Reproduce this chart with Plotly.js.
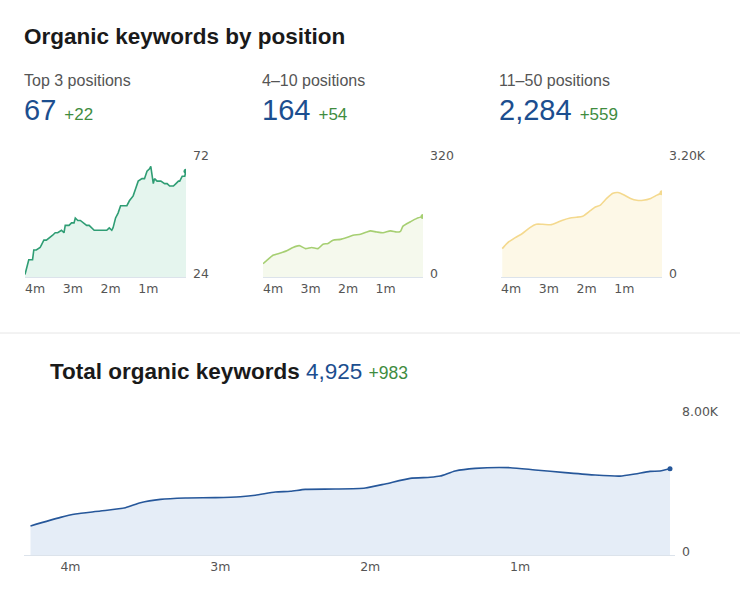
<!DOCTYPE html>
<html><head><meta charset="utf-8">
<script src="https://cdn.plot.ly/plotly-3.0.1.min.js"></script>
<style>html,body{margin:0;padding:0;background:#fff;}#chart{width:740px;height:598px;}</style>
</head><body><div id="chart"></div>
<script>
// ---- data (days before latest date) ----
const tickDays = [-120, -90, -60, -30];
const tickLabels = ['4m', '3m', '2m', '1m'];

const panelTitles = ['Top 3 positions', '4\u201310 positions', '11\u201350 positions'];
const panelValues = ['67', '164', '2,284'];
const panelDeltas = ['+22', '+54', '+559'];

const top3Days = [-128,-126,-125,-122,-121,-119,-116,-115,-113,-111,-108,-106,-104,-102,-99,-97,-96,-93,-91,-89,-88,-86,-84,-81,-79,-77,-75,-73,-71,-66,-63,-61,-59,-58,-56,-54,-52,-49,-47,-45,-42,-40,-38,-35,-33,-31,-29,-28,-27,-26,-25,-23,-20,-17,-15,-13,-11,-10,-8,-6,-5,-3,-1,0];
const top3Values = [25,30,31,31,35,35,36,37,39,39,40,41,42,42,43,42,45,45,46,46,48,47,47,46,45,45,44,43,43,43,43,44,43,44,48,50,53,53,53,55,57,60,63,64,64,67,68,69,66,62,64,63,63,62,62,61,61,61,62,63,63,65,65,67];
const top3TickVals = [24, 72];
const top3TickText = ['24', '72'];

const pos4to10Days = [-128,-124,-120,-114,-109,-104,-99,-94,-89,-84,-80,-76,-72,-66,-61,-56,-50,-45,-42,-37,-32,-26,-21,-18,-16,-10,-5,0];
const pos4to10Values = [36,48,59,65,71,80,85,77,80,77,89,91,100,102,107,113,116,122,125,122,120,125,122,124,138,150,159,164];
const pos4to10TickVals = [0, 320];
const pos4to10TickText = ['0', '320'];

const pos11to50Days = [-127,-123,-117,-111,-105,-100,-95,-88,-84,-79,-73,-68,-63,-57,-53,-49,-44,-39,-35,-31,-25,-20,-15,-9,-4,0];
const pos11to50Values = [770,920,1060,1180,1340,1430,1430,1420,1470,1540,1600,1620,1650,1800,1900,1950,2130,2270,2290,2240,2130,2080,2080,2130,2220,2284];
const pos11to50TickVals = [0, 3200];
const pos11to50TickText = ['0', '3.20K'];

const totalDays = [-128,-122,-119,-114,-109,-106,-102,-97,-91,-86,-83,-79,-76,-73,-67,-61,-57,-52,-48,-46,-43,-39,-32,-27,-21,-15,-10,-7,-4,-2,0];
const totalValues = [1660,2150,2340,2510,2700,2990,3180,3260,3280,3330,3410,3600,3640,3750,3770,3830,4060,4380,4440,4510,4800,4950,4990,4860,4710,4570,4510,4630,4780,4800,4925];
const totalTickVals = [0, 8000];
const totalTickText = ['0', '8.00K'];
const totalTitle = 'Total organic keywords';
const totalValue = '4,925';
const totalDelta = '+983';

// ---- layout helpers ----
const W = 740, H = 598;
const px = x => x / W;
const py = y => 1 - y / H;
const BLUE = '#1c4e8f', GREEN = '#3f8c3f';
const tickFont = {family: 'DejaVu Sans, Verdana, sans-serif', size: 12.5, color: '#555'};

const panels = [
  {days: top3Days, vals: top3Values, tv: top3TickVals, tt: top3TickText, line: '#2f9d74', fill: '#e5f5ee', shape: 'linear', xd: [25, 186], yd: [159, 277], xr: [-128, 0]},
  {days: pos4to10Days, vals: pos4to10Values, tv: pos4to10TickVals, tt: pos4to10TickText, line: '#a6cf72', fill: '#f5f9ed', shape: 'spline', xd: [263, 423], yd: [159, 277], xr: [-128, 0]},
  {days: pos11to50Days, vals: pos11to50Values, tv: pos11to50TickVals, tt: pos11to50TickText, line: '#f4d98e', fill: '#fdf8e7', shape: 'spline', xd: [501, 662], yd: [159, 277], xr: [-128, 0]},
  {days: totalDays, vals: totalValues, tv: totalTickVals, tt: totalTickText, line: '#26579a', fill: '#e5edf7', shape: 'spline', xd: [24, 675], yd: [415, 555], xr: [-129.3, 1]}
];

const data = [];
const layout = {
  width: W, height: H,
  margin: {l: 0, r: 0, t: 0, b: 0},
  paper_bgcolor: '#fff', plot_bgcolor: 'rgba(0,0,0,0)',
  showlegend: false,
  font: {family: 'Liberation Sans, Arial, sans-serif'},
  annotations: [],
  shapes: [{type: 'line', xref: 'paper', yref: 'paper', x0: 0, x1: 1, y0: py(333), y1: py(333), line: {color: '#e6e6e6', width: 1}}]
};

panels.forEach((p, i) => {
  const n = i === 0 ? '' : String(i + 1);
  data.push({
    type: 'scatter', mode: 'lines', x: p.days, y: p.vals,
    xaxis: 'x' + n, yaxis: 'y' + n,
    line: {color: p.line, width: 1.6, shape: p.shape, smoothing: 0.6},
    fill: 'tozeroy', fillcolor: p.fill, hoverinfo: 'skip'
  });
  data.push({
    type: 'scatter', mode: 'markers',
    x: [p.days[p.days.length - 1]], y: [p.vals[p.vals.length - 1]],
    xaxis: 'x' + n, yaxis: 'y' + n,
    marker: {color: p.line, size: 5}, hoverinfo: 'skip'
  });
  layout['xaxis' + n] = {
    domain: [px(p.xd[0]), px(p.xd[1])], range: p.xr, anchor: 'y' + n,
    tickvals: tickDays, ticktext: tickLabels, ticks: '', tickfont: tickFont,
    showgrid: false, zeroline: false, showline: true, linecolor: '#dce3eb', linewidth: 1,
    fixedrange: true
  };
  layout['yaxis' + n] = {
    domain: [py(p.yd[1]), py(p.yd[0])], range: [p.tv[0], p.tv[1]], anchor: 'x' + n,
    side: 'right', tickvals: p.tv, ticktext: p.tt, ticks: '', tickfont: tickFont,
    ticklabelstandoff: 6, ticklabelshift: -3,
    showgrid: true, gridcolor: '#f0f0f0', gridwidth: 1, zeroline: false, showline: false,
    fixedrange: true
  };
});

function ann(text, x, y, size, color) {
  layout.annotations.push({text, x: px(x), y: py(y), xref: 'paper', yref: 'paper',
    xanchor: 'left', yanchor: 'middle', showarrow: false, borderpad: 0,
    font: {family: 'Liberation Sans, Arial, sans-serif', size, color}});
}

ann('<b>Organic keywords by position</b>', 23, 37, 22.5, '#1a1a1a');
const colX = [23, 261, 498];
panelTitles.forEach((t, i) => {
  ann(t, colX[i], 80, 16, '#555');
  ann(panelValues[i] + ' <span style="font-size:17px;color:' + GREEN + '">' + panelDeltas[i] + '</span>', colX[i], 110, 29, BLUE);
});
ann('<b>' + totalTitle + '</b> <span style="color:' + BLUE + '">' + totalValue + '</span> <span style="font-size:17.5px;color:' + GREEN + '">' + totalDelta + '</span>', 49, 371, 22.5, '#1a1a1a');

Plotly.newPlot('chart', data, layout, {displayModeBar: false, staticPlot: true});
</script>
</body></html>
